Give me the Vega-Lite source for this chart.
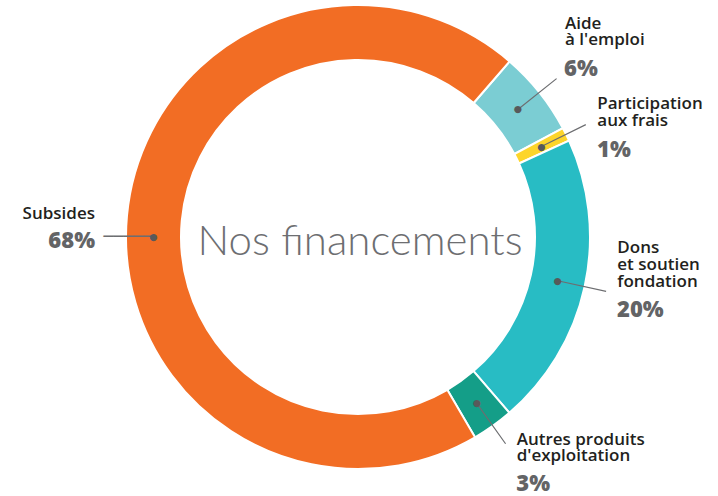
{
  "$schema": "https://vega.github.io/schema/vega-lite/v6.json",
  "width": 716,
  "height": 474,
  "autosize": "none",
  "padding": {"left": 0, "top": 0, "right": 2, "bottom": 22},
  "background": "white",
  "config": {"view": {"stroke": null}},
  "layer": [
    {
      "data": {
        "values": [
          {"cat": "Aide à l'emploi", "name": "Aide\nà l'emploi", "share": 5.9, "pct": "6%", "order": 1},
          {"cat": "Participation aux frais", "name": "Participation\naux frais", "share": 0.95, "pct": "1%", "order": 2},
          {"cat": "Dons et soutien fondation", "name": "Dons\net soutien\nfondation", "share": 20.5, "pct": "20%", "order": 3},
          {"cat": "Autres produits d'exploitation", "name": "Autres produits\nd'exploitation", "share": 2.9, "pct": "3%", "order": 4},
          {"cat": "Subsides", "name": "Subsides", "share": 69.75, "pct": "68%", "order": 5}
        ]
      },
      "encoding": {
        "theta": {"field": "share", "type": "quantitative", "stack": true, "scale": {"domain": [0, 100], "range": [0.71209, 6.99528]}},
        "order": {"field": "order", "type": "quantitative"},
        "detail": {"field": "cat", "type": "nominal"}
      },
      "layer": [
        {
          "mark": {"type": "arc", "outerRadius": 232, "innerRadius": 177, "stroke": "white", "strokeWidth": 2},
          "encoding": {
            "color": {
              "field": "cat", "type": "nominal", "legend": null,
              "scale": {
                "domain": ["Aide à l'emploi", "Participation aux frais", "Dons et soutien fondation", "Autres produits d'exploitation", "Subsides"],
                "range": ["#7bcdd3", "#fdd52b", "#28bcc4", "#149e88", "#f26d24"]
              }
            }
          }
        },
        {
          "mark": {"type": "arc", "innerRadius": 204.5, "outerRadius": 254, "padAngle": 3, "filled": false, "stroke": "#6d6e71", "strokeWidth": 1.2},
          "encoding": {"strokeOpacity": {"condition": {"test": "datum.order !== 5", "value": 1}, "value": 0}}
        },
        {
          "mark": {"type": "text", "radius": 204.5, "align": "center", "baseline": "middle", "font": "DejaVu Sans", "fontSize": 9.5, "color": "#58595b"},
          "encoding": {"text": {"condition": {"test": "datum.order !== 5", "value": "●"}, "value": ""}}
        },
        {
          "mark": {"type": "text", "radius": 229.5, "thetaOffset": -0.09163, "align": "center", "baseline": "middle", "font": "DejaVu Sans", "fontSize": 16.6, "color": "#6d6e71"},
          "encoding": {"text": {"condition": {"test": "datum.order === 5", "value": "─────"}, "value": ""}}
        },
        {
          "mark": {"type": "text", "radius": 204.5, "thetaOffset": -0.09163, "align": "center", "baseline": "middle", "font": "DejaVu Sans", "fontSize": 9.5, "color": "#58595b"},
          "encoding": {"text": {"condition": {"test": "datum.order === 5", "value": "●"}, "value": ""}}
        },
        {
          "mark": {"type": "text", "radius": 254, "align": "left", "baseline": "alphabetic", "dx": 8.5, "dy": -49.6, "font": "Open Sans", "fontSize": 17, "fontWeight": 600, "lineHeight": 15.5, "lineBreak": "\n", "color": "#231f20"},
          "encoding": {"text": {"condition": {"test": "datum.order === 1", "field": "name"}, "value": ""}}
        },
        {
          "mark": {"type": "text", "radius": 254, "align": "left", "baseline": "alphabetic", "dx": 11.5, "dy": -15.7, "font": "Open Sans", "fontSize": 17, "fontWeight": 600, "lineHeight": 17, "lineBreak": "\n", "color": "#231f20"},
          "encoding": {"text": {"condition": {"test": "datum.order === 2", "field": "name"}, "value": ""}}
        },
        {
          "mark": {"type": "text", "radius": 254, "align": "left", "baseline": "alphabetic", "dx": 11.2, "dy": -38.5, "font": "Open Sans", "fontSize": 17, "fontWeight": 600, "lineHeight": 17.3, "lineBreak": "\n", "color": "#231f20"},
          "encoding": {"text": {"condition": {"test": "datum.order === 3", "field": "name"}, "value": ""}}
        },
        {
          "mark": {"type": "text", "radius": 254, "align": "left", "baseline": "alphabetic", "dx": 11.1, "dy": 1.3, "font": "Open Sans", "fontSize": 17, "fontWeight": 600, "lineHeight": 15.7, "lineBreak": "\n", "color": "#231f20"},
          "encoding": {"text": {"condition": {"test": "datum.order === 4", "field": "name"}, "value": ""}}
        },
        {
          "mark": {"type": "text", "radius": 254, "thetaOffset": -0.09163, "align": "right", "baseline": "alphabetic", "dx": -9, "dy": -17.7, "font": "Open Sans", "fontSize": 17, "fontWeight": 600, "lineBreak": "\n", "color": "#231f20"},
          "encoding": {"text": {"condition": {"test": "datum.order === 5", "field": "name"}, "value": ""}}
        },
        {
          "mark": {"type": "text", "radius": 254, "align": "left", "baseline": "alphabetic", "dx": 7.5, "dy": -2.9, "font": "Open Sans", "fontSize": 22, "fontWeight": 800, "color": "#636466"},
          "encoding": {"text": {"condition": {"test": "datum.order === 1", "field": "pct"}, "value": ""}}
        },
        {
          "mark": {"type": "text", "radius": 254, "align": "left", "baseline": "alphabetic", "dx": 11.2, "dy": 32, "font": "Open Sans", "fontSize": 22, "fontWeight": 800, "color": "#636466"},
          "encoding": {"text": {"condition": {"test": "datum.order === 2", "field": "pct"}, "value": ""}}
        },
        {
          "mark": {"type": "text", "radius": 254, "align": "left", "baseline": "alphabetic", "dx": 10.9, "dy": 25.6, "font": "Open Sans", "fontSize": 22, "fontWeight": 800, "color": "#636466"},
          "encoding": {"text": {"condition": {"test": "datum.order === 3", "field": "pct"}, "value": ""}}
        },
        {
          "mark": {"type": "text", "radius": 254, "align": "left", "baseline": "alphabetic", "dx": 10.8, "dy": 46.8, "font": "Open Sans", "fontSize": 22, "fontWeight": 800, "color": "#636466"},
          "encoding": {"text": {"condition": {"test": "datum.order === 4", "field": "pct"}, "value": ""}}
        },
        {
          "mark": {"type": "text", "radius": 254, "thetaOffset": -0.09163, "align": "right", "baseline": "alphabetic", "dx": -9, "dy": 11.3, "font": "Open Sans", "fontSize": 22, "fontWeight": 800, "color": "#636466"},
          "encoding": {"text": {"condition": {"test": "datum.order === 5", "field": "pct"}, "value": ""}}
        }
      ]
    },
    {
      "data": {"values": [{"title": "Nos financements"}]},
      "mark": {"type": "text", "font": "Lato", "fontSize": 42, "fontWeight": 300, "color": "#6d6e71", "align": "center", "baseline": "alphabetic", "dx": 2, "dy": 18},
      "encoding": {"text": {"field": "title", "type": "nominal"}}
    }
  ]
}
